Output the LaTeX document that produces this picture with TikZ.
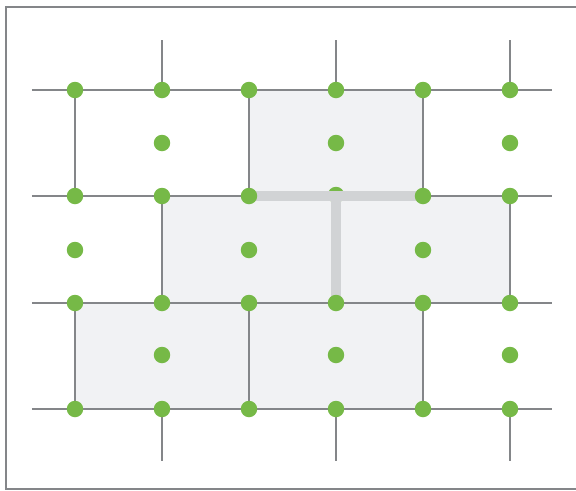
\documentclass[tikz,border=0pt]{standalone}
\usepackage{tikz}
\usepackage{xcolor}
\definecolor{wallgray}{HTML}{848689}
\definecolor{brickfill}{HTML}{F1F2F4}
\definecolor{seamgray}{HTML}{D1D3D5}
\definecolor{studgreen}{HTML}{76B947}
\tikzset{
  course/.style={draw=wallgray, line width=1.6pt},
  brick/.style={fill=brickfill},
  stud/.style={circle, fill=studgreen, inner sep=0pt, minimum size=0.33cm},
  seam/.style={draw=seamgray, line width=5.5pt}
}
\begin{document}
\begin{tikzpicture}[x=0.02cm, y=-0.02cm]
  \useasboundingbox (0,0) rectangle (576,491);

  % Frame
  \draw[wallgray, line width=1.4pt] (580,7) -- (6,7) -- (6,489) -- (580,489);

  % Shaded bricks
  \fill[brick] (249,90) rectangle (423,196);
  \fill[brick] (162,196) rectangle (510,303);
  \fill[brick] (75,303) rectangle (423,409);

  % Courses
  \foreach \y in {90,196,303,409}
    \draw[course] (32,\y) -- (552,\y);

  % Joints
  \foreach \x in {75,249,423} {
    \draw[course] (\x,90) -- (\x,196);
    \draw[course] (\x,303) -- (\x,409);
  }
  \foreach \x in {162,510}
    \draw[course] (\x,196) -- (\x,303);
  \foreach \x in {162,336,510} {
    \draw[course] (\x,40) -- (\x,90);
    \draw[course] (\x,409) -- (\x,461);
  }

  % Stud under the seam
  \node[stud] (s-3-1) at (336,195) {};

  % Seam
  \draw[seam] (249,196) -- (423,196);
  \draw[seam] (336,196) -- (336,303);

  % Studs on the courses
  \foreach \i in {0,...,5} {
    \foreach \j/\y in {0/90,2/303,3/409}
      \node[stud] (s-\i-\j) at (75+87*\i,\y) {};
  }
  \foreach \i in {0,1,2,4,5}
    \node[stud] (s-\i-1) at (75+87*\i,196) {};

  % Studs in the bricks
  \foreach \i in {1,3,5} {
    \node[stud] (c-\i-0) at (75+87*\i,143) {};
    \node[stud] (c-\i-2) at (75+87*\i,355) {};
  }
  \foreach \i in {0,2,4}
    \node[stud] (c-\i-1) at (75+87*\i,250) {};
\end{tikzpicture}
\end{document}
